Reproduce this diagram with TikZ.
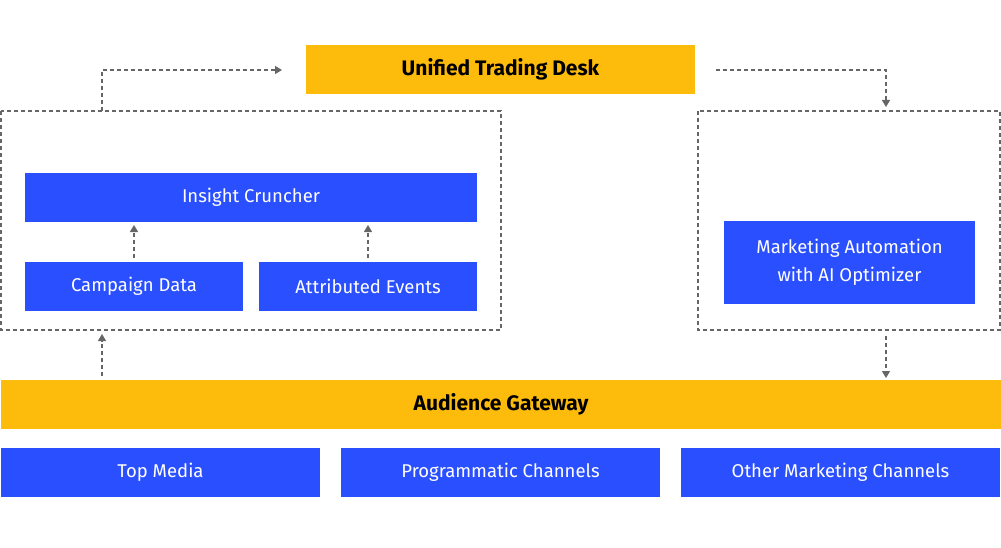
\documentclass[tikz,border=0pt]{standalone}
\usepackage{fontspec}
\setmainfont{Fira Sans}
\usetikzlibrary{arrows.meta}
\definecolor{yel}{HTML}{FDBB0B}
\definecolor{blu}{HTML}{2A4FFF}
\definecolor{gr}{HTML}{666666}
\begin{document}
\begin{tikzpicture}[x=1pt,y=-1pt,
 box/.style={text=white,font=\fontsize{18.5}{28}\selectfont\addfontfeature{Weight=300}},
 dbox/.style={draw=gr,dash pattern=on 4pt off 3pt,line width=1.3pt},
 conn/.style={draw=gr,dash pattern=on 4pt off 3pt,line width=1.3pt,-{Triangle[length=7pt,width=8pt]}}]
\useasboundingbox (0,0) rectangle (1001,548);
\fill[yel] (306,45) rectangle (695,94);
\node[font=\fontsize{21}{24}\selectfont\bfseries] (utd) at (500.5,69.5) {Unified Trading Desk};
\draw[dbox] (1,111) rectangle (501,330);
\draw[dbox] (698,111) rectangle (1000,330);
\fill[blu] (25,173) rectangle (477,222); \node[box] (ic) at (251,197.5) {Insight Cruncher};
\fill[blu] (25,262) rectangle (243,311); \node[box] (cd) at (134,286.5) {Campaign Data};
\fill[blu] (259,262) rectangle (477,311); \node[box] (ae) at (368,286.5) {Attributed Events};
\fill[blu] (724,221) rectangle (975,304);
\node[box,align=center] (ma) at (849.5,262.5) {Marketing Automation\\with AI Optimizer};
\fill[yel] (1,380) rectangle (1001,429);
\node[font=\fontsize{21}{24}\selectfont\bfseries] (ag) at (501,404.5) {Audience Gateway};
\fill[blu] (1,448) rectangle (320,497); \node[box] (tm) at (160.5,472.5) {Top Media};
\fill[blu] (341,448) rectangle (660,497); \node[box] (pc) at (500.5,472.5) {Programmatic Channels};
\fill[blu] (681,448) rectangle (1000,497); \node[box] (om) at (840.5,472.5) {Other Marketing Channels};
\coordinate (a1) at (102,111); \coordinate (a2) at (282,70);
\draw[conn] (a1) |- (a2);
\coordinate (b1) at (716,70); \coordinate (b2) at (886,107);
\draw[conn] (b1) -| (b2);
\coordinate (c1) at (886,336); \coordinate (c2) at (886,378);
\draw[conn] (c1) -- (c2);
\coordinate (d1) at (102,376); \coordinate (d2) at (102,334);
\draw[conn] (d1) -- (d2);
\coordinate (e1) at (134,258); \coordinate (e2) at (134,225);
\draw[conn] (e1) -- (e2);
\coordinate (f1) at (368,258); \coordinate (f2) at (368,225);
\draw[conn] (f1) -- (f2);
\end{tikzpicture}
\end{document}
